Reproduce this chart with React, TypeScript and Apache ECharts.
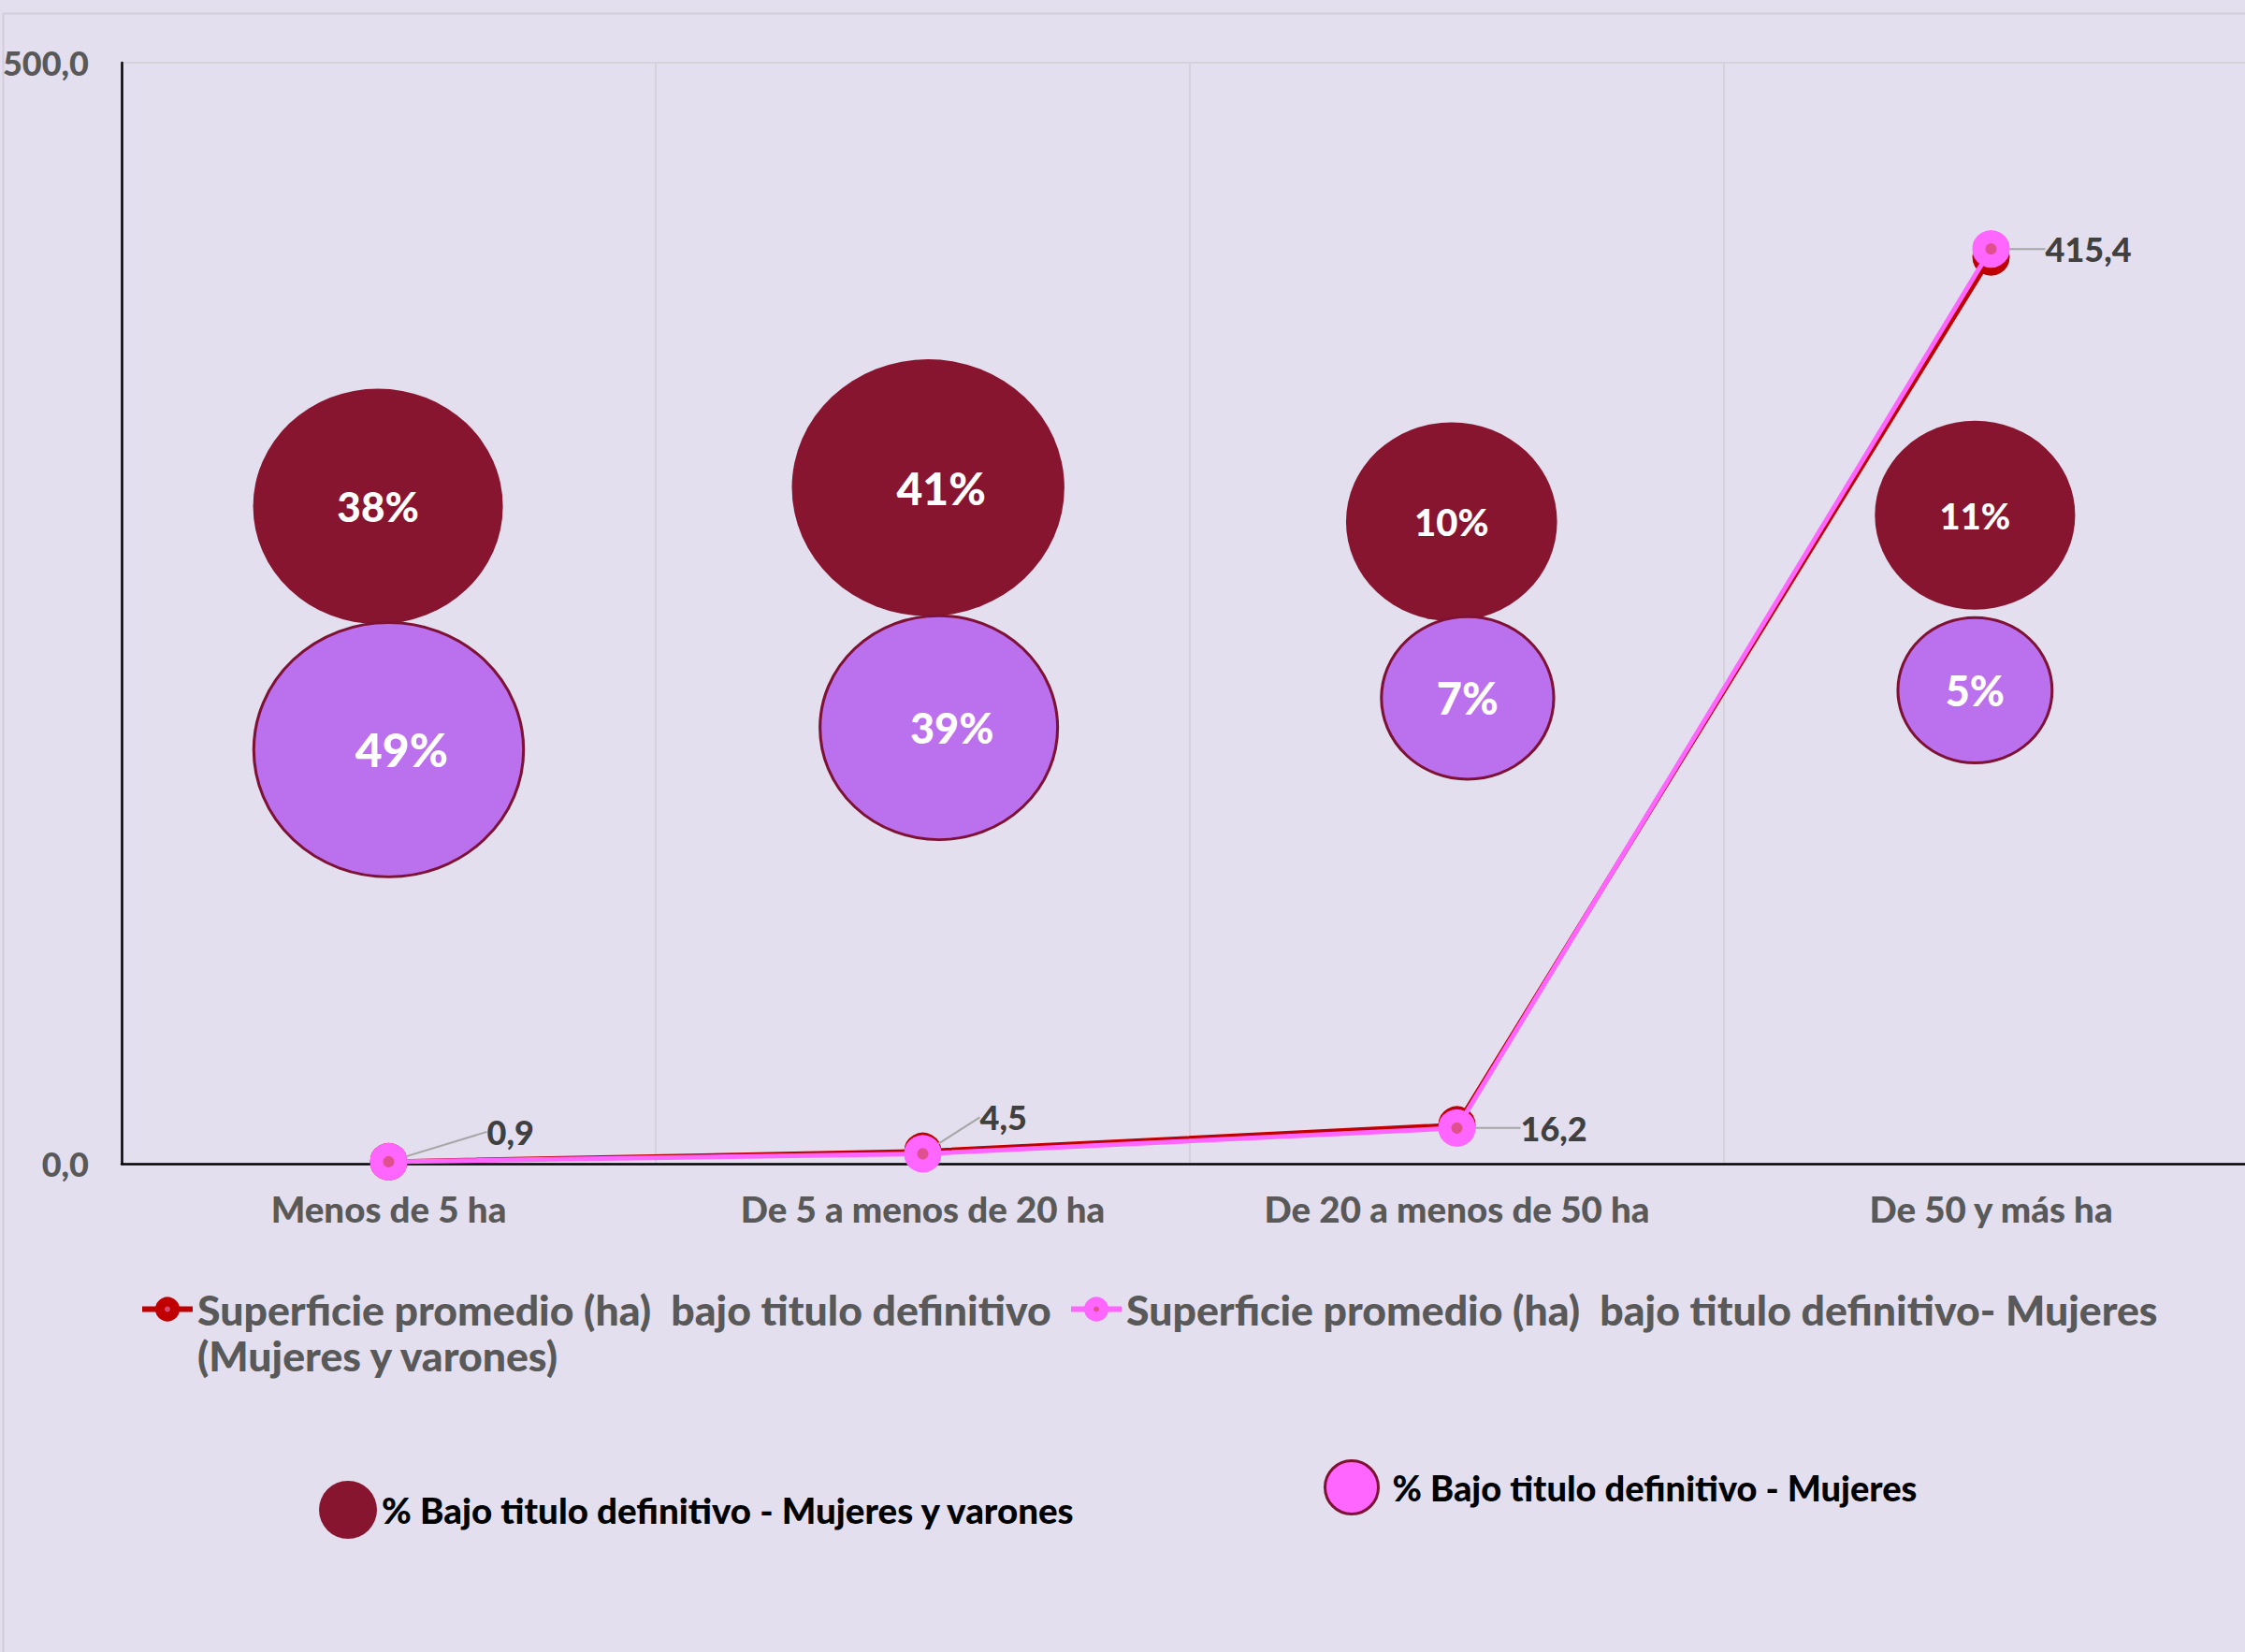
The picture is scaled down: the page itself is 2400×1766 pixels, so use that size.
import React, { useEffect, useRef } from 'react';
import * as echarts from 'echarts';

// ---------- data ----------
const categories = ['Menos de 5 ha', 'De 5 a menos de 20 ha', 'De 20 a menos de 50 ha', 'De 50 y más ha'];
const yTicks = [0, 500];
const supTotal = [0.9, 5.6, 17.6, 411.8];
const supMujeres = [0.9, 4.5, 16.2, 415.4];
const pctTotal = [38, 41, 10, 11];
const pctMujeres = [49, 39, 7, 5];
// bubble chart dimensions (x, y on a secondary 0-4 / 0-100 scale, bubble size)
const bubbleXTotal = [0.48, 1.51, 2.49, 3.47];
const bubbleYTotal = [59.7, 61.4, 58.3, 58.9];
const bubbleSizeTotal = [42, 50, 30, 27];
const bubbleXMujeres = [0.5, 1.53, 2.52, 3.47];
const bubbleYMujeres = [37.6, 39.6, 42.3, 43.0];
const bubbleSizeMujeres = [49, 38, 20, 16];

const nameTotal = 'Superficie promedio (ha)  bajo titulo definitivo (Mujeres y varones)';
const nameMujeres = 'Superficie promedio (ha)  bajo titulo definitivo- Mujeres';
const nameBubTotal = '% Bajo titulo definitivo - Mujeres y varones';
const nameBubMujeres = '% Bajo titulo definitivo - Mujeres';

// ---------- styles ----------
const FONT = 'Lato, "Open Sans", sans-serif';
const W = 900;
const GRAY = '#595959';
const ELLIPSE = 'path://M0,50 A50,50 0 1,0 100,50 A50,50 0 1,0 0,50 Z';
const labelOffsets = [
  { dx: 80, dy: -32 },
  { dx: 36, dy: -39 },
  { dx: 43, dy: 0 },
  { dx: 33, dy: 0 },
];
const bubbleLabelStyleTotal = [
  { fontSize: 44, dx: 0 },
  { fontSize: 48, dx: 14 },
  { fontSize: 40, dx: 0 },
  { fontSize: 38, dx: 0 },
];
const bubbleLabelStyleMujeres = [
  { fontSize: 50, dx: 14 },
  { fontSize: 45, dx: 14 },
  { fontSize: 47, dx: 0 },
  { fontSize: 45, dx: 0 },
];

const fmtNum = (v: number) => v.toFixed(1).replace('.', ',');

export default function App() {
  const ref = useRef<HTMLDivElement>(null);

  useEffect(() => {
    if (!ref.current) return;
    const chart = echarts.init(ref.current, undefined, { renderer: 'svg' });

    const bubbleSymbolSize = (val: number[]) => {
      const d = 40 * Math.sqrt(val[2]);
      return [d * 1.03, d / 1.03];
    };

    const bubbleData = (xs: number[], ys: number[], sizes: number[], pcts: number[], st: any[]) =>
      xs.map((x, i) => ({
        value: [x, ys[i], sizes[i], pcts[i]],
        label: { fontSize: st[i].fontSize, offset: [st[i].dx, 0] },
      }));

    const lineLegendBase = {
      orient: 'horizontal',
      padding: 0,
      itemWidth: 54,
      itemHeight: 20,
      selectedMode: false,
      itemStyle: { borderWidth: 10 },
      lineStyle: { width: 6 },
      textStyle: { fontFamily: FONT, fontWeight: W, fontSize: 44.6, color: GRAY, lineHeight: 49 },
    };

    const bubbleLabel = {
      show: true,
      position: 'inside',
      formatter: (p: any) => p.value[3] + '%',
      color: '#fff',
      fontFamily: FONT,
      fontWeight: W,
      fontSize: 44,
    };

    const option: any = {
      animation: false,
      backgroundColor: '#E3DFEE',
      graphic: [
        {
          type: 'rect',
          left: 1,
          top: 12,
          silent: true,
          shape: { width: 2450, height: 1800 },
          style: { fill: 'none', stroke: '#D2CEDA', lineWidth: 2 },
        },
      ],
      grid: {
        left: 130,
        top: 67,
        width: 2284,
        height: 1177,
        containLabel: false,
        outerBoundsMode: 'none',
      },
      legend: [
        {
          ...lineLegendBase,
          left: 149,
          top: 1326,
          data: [nameTotal],
          formatter: () => ' \nSuperficie promedio (ha)  bajo titulo definitivo\n(Mujeres y varones)',
        },
        {
          ...lineLegendBase,
          left: 1142,
          top: 1375,
          data: [nameMujeres],
        },
        {
          orient: 'horizontal',
          padding: 0,
          left: 341,
          top: 1583,
          itemWidth: 62,
          itemHeight: 66,
          selectedMode: false,
          textStyle: { fontFamily: FONT, fontWeight: W, fontSize: 38.5, color: '#000' },
          data: [{ name: nameBubTotal, icon: ELLIPSE, itemStyle: { color: '#88152F', borderWidth: 0 } }],
        },
        {
          orient: 'horizontal',
          padding: 0,
          left: 1415,
          top: 1560,
          itemWidth: 57,
          itemHeight: 60,
          selectedMode: false,
          textStyle: { fontFamily: FONT, fontWeight: W, fontSize: 38, color: '#000', padding: [0, 0, 0, 10] },
          data: [
            {
              name: nameBubMujeres,
              icon: ELLIPSE,
              itemStyle: { color: '#FF66FF', borderColor: '#7E1235', borderWidth: 3 },
            },
          ],
        },
      ],
      xAxis: [
        {
          type: 'category',
          data: categories,
          boundaryGap: true,
          axisLine: { show: true, lineStyle: { color: '#000', width: 2.5 } },
          axisTick: { show: false },
          axisLabel: { margin: 28, fontFamily: FONT, fontWeight: W, fontSize: 38.5, color: GRAY },
          splitLine: { show: true, lineStyle: { color: '#D5D2DC', width: 2 } },
        },
        { type: 'value', min: 0, max: 4, show: false },
      ],
      yAxis: [
        {
          type: 'value',
          min: yTicks[0],
          max: yTicks[yTicks.length - 1],
          interval: yTicks[1] - yTicks[0],
          axisLine: { show: true, lineStyle: { color: '#000', width: 2.5 } },
          axisTick: { show: false },
          axisLabel: {
            margin: 35,
            fontFamily: FONT,
            fontWeight: W,
            fontSize: 36,
            color: GRAY,
            formatter: (v: number) => fmtNum(v),
          },
          splitLine: { show: true, lineStyle: { color: '#D5D2DC', width: 2 } },
        },
        { type: 'value', min: 0, max: 100, show: false },
      ],
      series: [
        {
          name: nameBubTotal,
          type: 'scatter',
          xAxisIndex: 1,
          yAxisIndex: 1,
          symbol: ELLIPSE,
          symbolSize: bubbleSymbolSize,
          itemStyle: { color: '#88152F', borderWidth: 0, opacity: 1 },
          label: bubbleLabel,
          data: bubbleData(bubbleXTotal, bubbleYTotal, bubbleSizeTotal, pctTotal, bubbleLabelStyleTotal),
        },
        {
          name: nameBubMujeres,
          type: 'scatter',
          xAxisIndex: 1,
          yAxisIndex: 1,
          symbol: ELLIPSE,
          symbolSize: bubbleSymbolSize,
          itemStyle: { color: '#BB70EE', borderColor: '#7E1235', borderWidth: 3, opacity: 1 },
          label: bubbleLabel,
          data: bubbleData(bubbleXMujeres, bubbleYMujeres, bubbleSizeMujeres, pctMujeres, bubbleLabelStyleMujeres),
        },
        {
          name: nameTotal,
          type: 'line',
          data: supTotal,
          symbol: 'circle',
          symbolSize: 26,
          lineStyle: { color: '#C00000', width: 5 },
          itemStyle: { color: '#D84870', borderColor: '#C00000', borderWidth: 14 },
          z: 3,
        },
        {
          name: nameMujeres,
          type: 'line',
          data: supMujeres,
          symbol: 'circle',
          symbolSize: 26,
          lineStyle: { color: '#FF66FF', width: 5 },
          itemStyle: { color: '#E0508F', borderColor: '#FF66FF', borderWidth: 14 },
          z: 4,
          label: {
            show: true,
            position: 'right',
            formatter: (p: any) => fmtNum(p.value),
            color: '#404040',
            fontFamily: FONT,
            fontWeight: W,
            fontSize: 36,
          },
          labelLine: { show: true, lineStyle: { color: '#A6A6A6', width: 2 } },
          labelLayout: (params: any) => labelOffsets[params.dataIndex],
        },
      ],
    };

    chart.setOption(option);
    return () => chart.dispose();
  }, []);

  return (
    <div
      ref={ref}
      style={{ position: 'fixed', left: 0, top: 0, width: 2400, height: 1766 }}
    />
  );
}
